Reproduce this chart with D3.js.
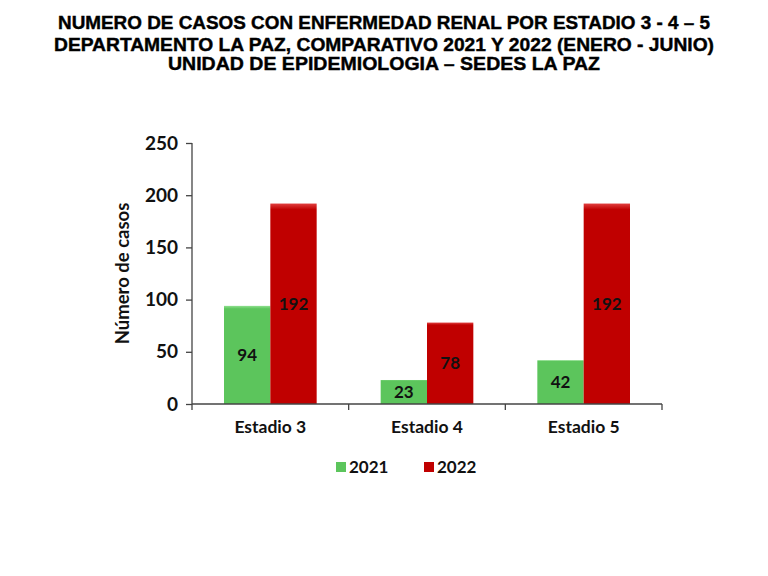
<!DOCTYPE html>
<html lang="es">
<head>
<meta charset="utf-8">
<title>Enfermedad renal por estadio</title>
<script src="https://cdn.jsdelivr.net/npm/d3@7"></script>
<style>
  body { margin: 0; background: #fff; }
  .title { font-family: "Liberation Sans Narrow", "Arial Narrow", "Liberation Sans", sans-serif; font-weight: bold; font-size: 18px; fill: #000; stroke: #000; stroke-width: 0.4px; }
  .lab { font-family: Lato, "Open Sans", sans-serif; font-weight: bold; fill: #111; }
</style>
</head>
<body>
<script>
// data
var estadios = ["Estadio 3", "Estadio 4", "Estadio 5"];
var years = ["2021", "2022"];
var casos2021 = [94, 23, 42];
var casos2022 = [192, 78, 192];
var yTicks = [0, 50, 100, 150, 200, 250];
var titleLines = [
  "NUMERO DE CASOS CON ENFERMEDAD  RENAL POR ESTADIO 3 - 4 \u2013 5",
  "DEPARTAMENTO  LA PAZ, COMPARATIVO  2021 Y 2022 (ENERO - JUNIO)",
  "UNIDAD DE EPIDEMIOLOGIA \u2013 SEDES LA PAZ"
];

var w = 768, h = 576;
var pLeft = 192, pRight = 662, pTop = 143, pBottom = 404;

var svg = d3.select("body").append("svg")
  .attr("width", w).attr("height", h);

var defs = svg.append("defs");
function grad(id, c1, c2) {
  var g = defs.append("linearGradient").attr("id", id)
    .attr("x1", 0).attr("y1", 0).attr("x2", 0).attr("y2", 1);
  g.append("stop").attr("offset", "0%").attr("stop-color", c1);
  g.append("stop").attr("offset", "3%").attr("stop-color", c2);
  g.append("stop").attr("offset", "100%").attr("stop-color", c2);
}
grad("g2021", "#8fe08f", "#5cc55c");
grad("g2022", "#e04040", "#c00000");

// title
svg.selectAll("text.title").data(titleLines).enter().append("text")
  .attr("class", "title")
  .attr("x", w / 2)
  .attr("y", function(d, i) { return [29, 51, 70][i]; })
  .attr("text-anchor", "middle")
  .attr("textLength", function(d, i) { return [652, 660, 432][i]; })
  .attr("lengthAdjust", "spacingAndGlyphs")
  .text(function(d) { return d; });

var x0 = d3.scaleBand().domain(estadios).range([pLeft, pRight]);
var x1 = d3.scaleBand().domain(years).range([32, x0.bandwidth() - 32]);
var y = d3.scaleLinear().domain([0, 250]).range([pBottom, pTop]);

var rows = estadios.map(function(e, i) {
  return { estadio: e, vals: [{ year: "2021", v: casos2021[i] }, { year: "2022", v: casos2022[i] }] };
});

var groups = svg.selectAll("g.grp").data(rows).enter().append("g")
  .attr("class", "grp")
  .attr("transform", function(d) { return "translate(" + x0(d.estadio) + ",0)"; });

groups.selectAll("rect").data(function(d) { return d.vals; }).enter().append("rect")
  .attr("x", function(d) { return x1(d.year); })
  .attr("y", function(d) { return y(d.v); })
  .attr("width", x1.bandwidth())
  .attr("height", function(d) { return y(0) - y(d.v); })
  .attr("fill", function(d) { return "url(#g" + d.year + ")"; });

groups.selectAll("text").data(function(d) { return d.vals; }).enter().append("text")
  .attr("class", "lab")
  .attr("x", function(d) { return x1(d.year) + x1.bandwidth() / 2; })
  .attr("y", function(d) { return (y(d.v) + y(0)) / 2; })
  .attr("dy", "0.36em")
  .attr("text-anchor", "middle")
  .style("font-size", "17px")
  .text(function(d) { return d.v; });

// axes
var yAxis = svg.append("g").attr("transform", "translate(" + pLeft + ",0)")
  .call(d3.axisLeft(y).tickValues(yTicks).tickSize(6).tickPadding(8));
var xAxis = svg.append("g").attr("transform", "translate(0," + pBottom + ")")
  .call(d3.axisBottom(x0).tickSize(0).tickPadding(17));
xAxis.selectAll("line.bnd").data(d3.range(estadios.length + 1)).enter().append("line")
  .attr("class", "bnd")
  .attr("x1", function(i) { return pLeft + i * x0.bandwidth(); })
  .attr("x2", function(i) { return pLeft + i * x0.bandwidth(); })
  .attr("y1", 0).attr("y2", 6)
  .attr("stroke", "#444").attr("stroke-width", 1.3);

svg.selectAll(".domain, .tick line").attr("stroke", "#444").attr("stroke-width", 1.3);
yAxis.selectAll(".tick text").attr("class", "lab").style("font-size", "19px").attr("fill", "#111");
xAxis.selectAll(".tick text").attr("class", "lab").style("font-size", "17.5px").attr("fill", "#111");
yAxis.select(".domain").attr("d", "M0," + pTop + "V" + pBottom);
xAxis.select(".domain").attr("d", "M" + pLeft + ",0H" + pRight);

svg.append("text").attr("class", "lab")
  .attr("transform", "translate(129," + ((pTop + pBottom) / 2) + ") rotate(-90)")
  .attr("text-anchor", "middle")
  .style("font-size", "18.5px")
  .text("N\u00famero de casos");

// legend
var legend = svg.selectAll("g.leg").data(years).enter().append("g")
  .attr("class", "leg")
  .attr("transform", function(d, i) { return "translate(" + (336 + i * 88) + ",467)"; });
legend.append("rect").attr("x", 0).attr("y", -5).attr("width", 10).attr("height", 10)
  .attr("fill", function(d) { return "url(#g" + d + ")"; });
legend.append("text").attr("class", "lab")
  .attr("x", 13).attr("dy", "0.36em")
  .style("font-size", "17px")
  .text(function(d) { return d; });
</script>
</body>
</html>
